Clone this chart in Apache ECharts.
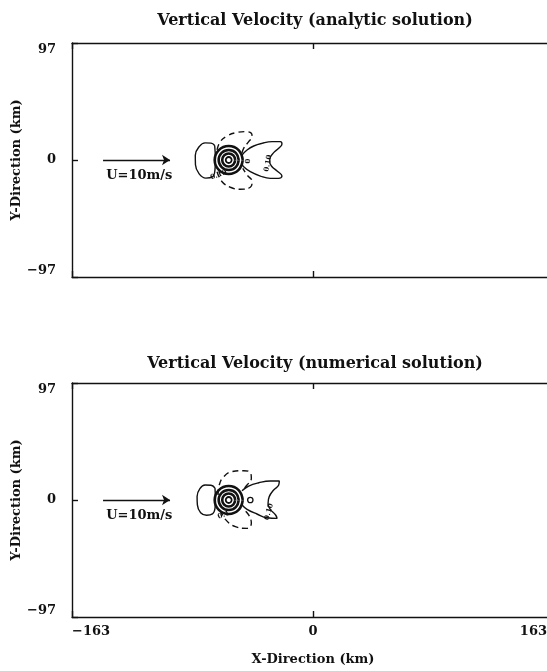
<!DOCTYPE html>
<html><head><meta charset="utf-8">
<script src="https://cdn.jsdelivr.net/npm/echarts@6/dist/echarts.min.js"></script>
<style>html,body{margin:0;padding:0;background:#fff}#c{width:547px;height:671px}</style>
</head><body><div id="c"></div>
<script>
// ---- axis ranges / ticks ----
const xRange = [-163, 163];
const yRange = [-97, 97];
const titles = ['Vertical Velocity (analytic solution)', 'Vertical Velocity (numerical solution)'];
const xName = 'X-Direction (km)';
const yName = 'Y-Direction (km)';

// ---- wind arrow annotation (km) ----
const arrowLine = [[-142, 0], [-96.7, 0]];
const windText = 'U=10m/s';
const windTextPos = [-117.5, -12.8];

// ---- analytic solution contours (km) ----
const aOval = [[-66.5,12],[-69,14],[-73,14.2],[-77,11],[-79.6,4],[-79.5,-4],[-77,-11.5],[-72.5,-15],[-68,-14],[-66.3,-8],[-66,0],[-66.5,12]];
const aRing1 = [[-47.5,0],[-50.3,8.2],[-57,11.6],[-63.7,8.2],[-66.5,0],[-63.7,-8.2],[-57,-11.6],[-50.3,-8.2],[-47.5,0]];
const aRing2 = [[-50.2,0],[-52.2,5.9],[-57,8.3],[-61.8,5.9],[-63.8,0],[-61.8,-5.9],[-57,-8.3],[-52.2,-5.9],[-50.2,0]];
const aRing3 = [[-52.6,0],[-53.9,3.8],[-57,5.4],[-60.1,3.8],[-61.4,0],[-60.1,-3.8],[-57,-5.4],[-53.9,-3.8],[-52.6,0]];
const aRing4 = [[-55,0],[-55.6,1.8],[-57,2.5],[-58.4,1.8],[-59,0],[-58.4,-1.8],[-57,-2.5],[-55.6,-1.8],[-55,0]];
const aDashTop = [[-64.9,8.3],[-62.7,15.2],[-58.1,19.9],[-52.5,22.6],[-45.8,23.5],[-41.7,22.1],[-41.2,19.3],[-43.5,15.2],[-46.9,9.7],[-48,5.8]];
const aDashBot = [[-64.9,-9.7],[-61.5,-18],[-55.9,-22.6],[-49.2,-24.3],[-42.4,-22.6],[-41.2,-18],[-44.6,-12.4],[-47.5,-6.9]];
const aLobe = [[-48,4.1],[-44.6,8.3],[-40.1,11.6],[-34.5,13.8],[-27.7,15.2],[-22.1,15.2],[-21,13.3],[-23.2,9.7],[-26.6,6.1],[-28.9,2.2],[-29.3,-1.4],[-27.7,-5.6],[-24.3,-9.1],[-21,-13.3],[-23.2,-15.2],[-28.9,-15.2],[-35.6,-13.3],[-42.4,-9.7],[-46.9,-5.6],[-48,-3.3]];
const aLabels = [[-43.5,-0.8,'0',90],[-30.4,-2.7,'0.10',80],[-63.8,-12.4,'0.10',20]];

// ---- numerical solution contours (km) ----
const nOval = [[-66.3,10],[-69,12.2],[-73,12.4],[-76.5,9.5],[-78.4,3],[-78.2,-4],[-76,-10.5],[-72,-12.6],[-68,-11.5],[-66.2,-6],[-66,0],[-66.3,10]];
const nRing1 = aRing1, nRing2 = aRing2, nRing3 = aRing3, nRing4 = aRing4;
const nDashTop = [[-64.2,4.1],[-63.4,12.4],[-60.4,19.3],[-54.8,23.5],[-46.9,24.3],[-42.4,22.6],[-41.7,18],[-44.6,12.4],[-48,7.7]];
const nDashBot = [[-62.7,-8.3],[-59.3,-16],[-52.5,-22.1],[-44.6,-23.5],[-41.7,-19.3],[-43.5,-12.4],[-46.9,-7.7]];
const nLobe = [[-48,7.7],[-43.5,11.6],[-36.7,14.3],[-28.9,15.8],[-22.8,15.8],[-23.2,12.4],[-26.6,8.3],[-29.6,2.8],[-30.4,-2.8],[-28.9,-7.7],[-25.3,-12.4],[-24.3,-15.2],[-31.1,-14.7],[-37.9,-11.6],[-44.6,-7.7],[-48,-4.1]];
const nSmall = [[-40.6,0],[-41.1,1.6],[-42.4,2.2],[-43.7,1.6],[-44.2,0],[-43.7,-1.6],[-42.4,-2.2],[-41.1,-1.6],[-40.6,0]];
const nLabels = [[-29.8,-9.7,'0.10',75],[-60.4,-12.4,'0.1',20]];

// ---------------------------------------------------------------
const FONT = 'DejaVu Serif';
const INK = '#111';
const chart = echarts.init(document.getElementById('c'), null, {renderer: 'canvas'});
const grids = [
  {left: 72, top: 43, width: 482, height: 234, outerBoundsMode: 'none', containLabel: false},
  {left: 72, top: 383, width: 482, height: 234, outerBoundsMode: 'none', containLabel: false}
];
const lbl = {fontFamily: FONT, fontWeight: 'bold', fontSize: 13, color: INK};
const minus = v => String(v).replace('-', '\u2212');
const axLine = {show: true, onZero: false, lineStyle: {color: INK, width: 1.4}};
const axTick = {show: true, inside: true, length: 6, lineStyle: {color: INK, width: 1.4}};

const xAxes = [], yAxes = [];
grids.forEach((g, i) => {
  const isLast = i === grids.length - 1;
  xAxes.push({type: 'value', gridIndex: i, position: 'bottom', min: xRange[0], max: xRange[1], interval: 163,
    axisLine: axLine, axisTick: axTick, splitLine: {show: false},
    axisLabel: {show: isLast, margin: 8, ...lbl, alignMinLabel: 'left', alignMaxLabel: 'right',
      formatter: v => v === xRange[1] ? '{r|' + v + '}' : minus(v),
      rich: {r: {...lbl, padding: [0, 7, 0, 0]}}},
    name: isLast ? xName : '', nameLocation: 'middle', nameGap: 36, nameMoveOverlap: false,
    nameTextStyle: {...lbl}});
  xAxes.push({type: 'value', gridIndex: i, position: 'top', min: xRange[0], max: xRange[1], interval: 163,
    axisLine: axLine, axisTick: axTick, splitLine: {show: false}, axisLabel: {show: false}});
  yAxes.push({type: 'value', gridIndex: i, position: 'left', min: yRange[0], max: yRange[1], interval: 97,
    axisLine: axLine, axisTick: axTick, splitLine: {show: false},
    axisLabel: {show: true, margin: 16, ...lbl, formatter: minus,
      verticalAlignMaxLabel: 'top', verticalAlignMinLabel: 'bottom'},
    name: yName, nameLocation: 'middle', nameGap: 49, nameRotate: 90, nameMoveOverlap: false,
    nameTextStyle: {...lbl}});
  yAxes.push({type: 'value', gridIndex: i, position: 'right', min: yRange[0], max: yRange[1], interval: 97,
    axisLine: axLine, axisTick: axTick, splitLine: {show: false}, axisLabel: {show: false}});
});

function contour(data, gi, opts) {
  return Object.assign({type: 'line', xAxisIndex: gi * 2, yAxisIndex: gi * 2, data: data,
    symbol: 'none', smooth: 0.45, silent: true, animation: false,
    lineStyle: {color: INK, width: 1.4}}, opts || {});
}
const series = [];
const panels = [
  {oval: aOval, rings: [aRing1, aRing2, aRing3, aRing4], dt: aDashTop, db: aDashBot, lobe: aLobe, extra: [], labels: aLabels},
  {oval: nOval, rings: [nRing1, nRing2, nRing3, nRing4], dt: nDashTop, db: nDashBot, lobe: nLobe, extra: [nSmall], labels: nLabels}
];
panels.forEach((p, gi) => {
  series.push(contour(p.oval, gi));
  p.rings.forEach((r, k) => series.push(contour(r, gi, {lineStyle: {color: INK, width: k === 3 ? 1.8 : 2.6}})));
  series.push(contour(p.dt, gi, {lineStyle: {color: INK, width: 1.4, type: [6, 4]}}));
  series.push(contour(p.db, gi, {lineStyle: {color: INK, width: 1.4, type: [6, 4]}}));
  series.push(contour(p.lobe, gi));
  p.extra.forEach(e => series.push(contour(e, gi)));
  series.push({type: 'scatter', xAxisIndex: gi * 2, yAxisIndex: gi * 2, symbolSize: 0, silent: true, animation: false,
    itemStyle: {opacity: 1},
    data: p.labels.map(l => ({value: [l[0], l[1]], label: {show: true, position: 'inside', formatter: l[2], rotate: l[3],
      fontFamily: FONT, fontWeight: 'bold', fontSize: 7, color: INK, opacity: 1}}))});
  series.push({type: 'lines', coordinateSystem: 'cartesian2d', xAxisIndex: gi * 2, yAxisIndex: gi * 2, silent: true, animation: false,
    symbol: ['none', 'arrow'], symbolSize: [0, 8],
    lineStyle: {color: INK, width: 1.3, opacity: 1, curveness: 0},
    data: [{coords: arrowLine}]});
  series.push({type: 'scatter', xAxisIndex: gi * 2, yAxisIndex: gi * 2, symbolSize: 0, silent: true, animation: false,
    itemStyle: {opacity: 1},
    data: [{value: windTextPos, label: {show: true, position: 'inside', formatter: windText,
      fontFamily: FONT, fontWeight: 'bold', fontSize: 13, color: INK, opacity: 1}}]});
});

chart.setOption({
  backgroundColor: '#fff',
  animation: false,
  title: titles.map((t, i) => ({text: t, left: 310, top: i === 0 ? 8 : 351, textAlign: 'center',
    textStyle: {fontFamily: FONT, fontWeight: 'bold', fontSize: 16, color: INK}})),
  grid: grids,
  xAxis: xAxes,
  yAxis: yAxes,
  series: series
});
</script>
</body></html>
